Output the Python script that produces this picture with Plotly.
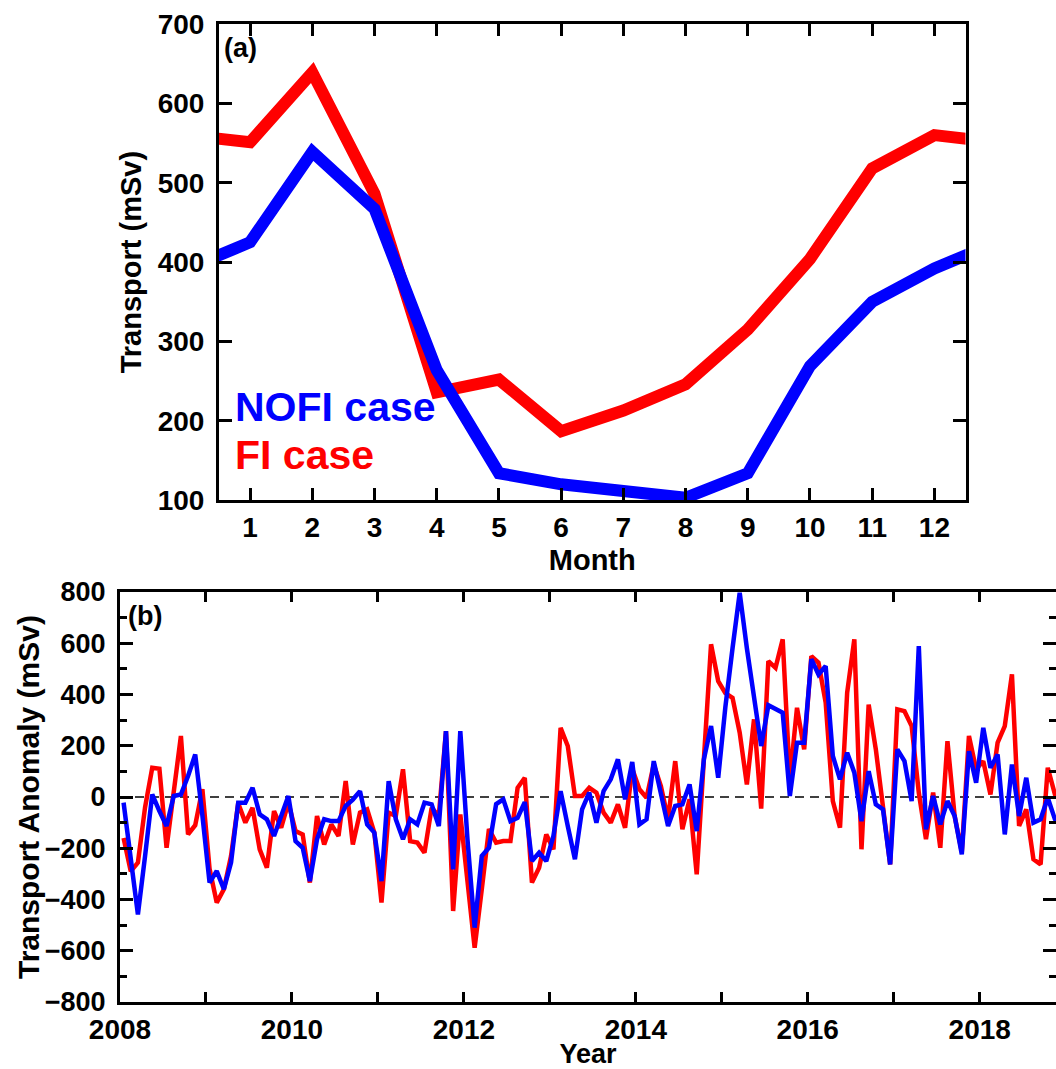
import numpy as np
import plotly.graph_objects as go

# ---------------- data ----------------
months = list(range(1, 13))
month_labels = [str(m) for m in months]
fi_clim = [551, 639, 486, 236, 252, 187, 213, 246, 315, 404, 518, 560]
nofi_clim = [425, 539, 467, 264, 134, 120, 113, 103, 134, 269, 350, 392]

start_year = 2008
n_months = 132
fi_anom = [
    -160, -290, -256, -40, 114, 110, -198, 20, 238, -146, -110, 30,
    -280, -412, -360, -230, -25, -100, -42, -204, -276, -55, -120, -22,
    -133, -146, -334, -74, -185, -107, -152, 62, -185, -61, -48, -139,
    -412, -61, -74, 108, -172, -178, -217, -42, -74, 257, -445, -68,
    -345, -588, -360, -125, -178, -172, -172, 36, 75, -334, -276, -146,
    -204, 270, 199, 4, 4, 36, 17, -61, -100, -29, -120, 110,
    30, -3, 127, 43, -87, 140, -126, -9, -302, 147, 596, 452,
    405, 387, 251, 49, 303, -45, 530, 504, 615, 69, 348, 186,
    550, 524, 368, -16, -120, 407, 615, -204, 361, 186, -22, -263,
    342, 335, 277, 17, -165, 17, -198, 218, -74, -214, 238, 108,
    140, 10, 212, 277, 479, -113, -48, -243, -263, 114, 10, -20,
]
nofi_anom = [
    -22, -240, -458, -230, 10, -55, -113, 4, 10, 82, 166, -72,
    -334, -289, -360, -256, -22, -22, 36, -68, -87, -152, -74, 4,
    -172, -198, -328, -165, -87, -94, -94, -35, -10, 23, -107, -139,
    -328, 62, -87, -165, -87, -107, -22, -29, -113, 257, -282, 257,
    -164, -510, -230, -198, -28, -9, -94, -81, -20, -250, -217, -250,
    -152, 23, -113, -243, -48, 17, -100, 23, 69, 147, -9, 137,
    -107, -87, 140, 17, -113, -35, -29, 49, -133, 147, 277, 75,
    351, 581, 797, 581, 374, 199, 358, 344, 329, 4, 212, 212,
    538, 478, 511, 160, 69, 173, 95, -94, 101, -29, -48, -263,
    186, 140, -16, 589, -126, 4, -107, -16, -74, -224, 179, 56,
    270, 114, 166, -146, 127, -74, 75, -100, -87, -3, -87, -110,
]
year_ticks = list(range(2008, 2020, 2))

# time coordinate: mid-month decimal years
t = start_year + (np.arange(n_months) + 0.5) / 12.0

# cyclic wrap for the climatology (Dec before Jan, Jan after Dec)
xm = [0] + months + [13]
fi_wrap = [fi_clim[-1]] + fi_clim + [fi_clim[0]]
nofi_wrap = [nofi_clim[-1]] + nofi_clim + [nofi_clim[0]]

RED = "#ff0000"
BLUE = "#0000ff"
FONT = "Liberation Sans"
W, H = 1056, 1069

fig = go.Figure()
fig.add_trace(go.Scatter(x=xm, y=fi_wrap, mode="lines", name="FI case",
                         line=dict(color=RED, width=12), xaxis="x", yaxis="y",
                         showlegend=False))
fig.add_trace(go.Scatter(x=xm, y=nofi_wrap, mode="lines", name="NOFI case",
                         line=dict(color=BLUE, width=12), xaxis="x", yaxis="y",
                         showlegend=False))
fig.add_trace(go.Scatter(x=t, y=fi_anom, mode="lines", name="FI case",
                         line=dict(color=RED, width=4.5), xaxis="x2", yaxis="y2",
                         showlegend=False))
fig.add_trace(go.Scatter(x=t, y=nofi_anom, mode="lines", name="NOFI case",
                         line=dict(color=BLUE, width=4.5), xaxis="x2", yaxis="y2",
                         showlegend=False))


def axis_style(fs):
    return dict(showline=True, linecolor="black", linewidth=3, mirror="ticks",
                ticks="inside", tickcolor="black", tickwidth=2.5,
                showgrid=False, zeroline=False, automargin=False,
                tickfont=dict(family=FONT, size=fs, color="black", weight="bold"))


def tfont(fs):
    return dict(family=FONT, size=fs, color="black", weight="bold")


fig.update_layout(
    template="none",
    width=W, height=H, margin=dict(l=0, r=0, t=0, b=0, pad=0),
    paper_bgcolor="white", plot_bgcolor="white", showlegend=False,
    xaxis=dict(domain=[219 / W, 965.5 / W], anchor="y", range=[0.5, 12.5],
               tickvals=months, ticktext=month_labels, ticklen=12,
               ticklabelstandoff=0,
               title=dict(text="Month", standoff=8, font=tfont(29)),
               **axis_style(28)),
    yaxis=dict(domain=[1 - 500.2 / H, 1 - 24 / H], anchor="x", range=[100, 700],
               dtick=100, tick0=100, ticklen=13, ticklabelstandoff=6,
               title=dict(text="Transport (mSv)", standoff=8, font=tfont(29)),
               **axis_style(28)),
    xaxis2=dict(domain=[120 / W, 1.0], anchor="y2", range=[2008, 2008 + 936 / 85.97],
                tickvals=year_ticks, ticklen=10, ticklabelstandoff=0,
                minor=dict(dtick=1, tick0=2008, ticks="inside", ticklen=10,
                           tickwidth=2.5, tickcolor="black"),
                title=dict(text="Year", standoff=5, font=tfont(27)),
                **axis_style(28)),
    yaxis2=dict(domain=[1 - 1002 / H, 1 - 592 / H], anchor="x2", range=[-800, 800],
                dtick=200, tick0=0, ticklen=13, ticklabelstandoff=6,
                minor=dict(dtick=100, tick0=0, ticks="inside", ticklen=7,
                           tickwidth=2.5, tickcolor="black"),
                **axis_style(27)),
)

# dashed zero line in panel (b)
fig.add_shape(type="line", xref="x2 domain", x0=0, x1=1, yref="y2", y0=0, y1=0,
              line=dict(color="black", width=1.6, dash="9px,6px"), layer="below")

fig.add_annotation(text="Transport Anomaly (mSv)", xref="paper", yref="paper",
                   x=28 / W, y=1 - 797 / H, textangle=-90, showarrow=False,
                   xanchor="center", yanchor="middle", font=tfont(30))
fig.add_annotation(text="(a)", xref="paper", yref="paper", x=222 / W, y=1 - 48 / H,
                   showarrow=False, xanchor="left", yanchor="middle", font=tfont(27))
fig.add_annotation(text="(b)", xref="paper", yref="paper", x=126 / W, y=1 - 615.5 / H,
                   showarrow=False, xanchor="left", yanchor="middle", font=tfont(27))
fig.add_annotation(text="NOFI case", xref="paper", yref="paper", x=233 / W, y=1 - 407 / H,
                   showarrow=False, xanchor="left", yanchor="middle",
                   font=dict(family=FONT, size=41, color=BLUE, weight="bold"))
fig.add_annotation(text="FI case", xref="paper", yref="paper", x=233 / W, y=1 - 455 / H,
                   showarrow=False, xanchor="left", yanchor="middle",
                   font=dict(family=FONT, size=41, color=RED, weight="bold"))

fig.write_html("out.html")
